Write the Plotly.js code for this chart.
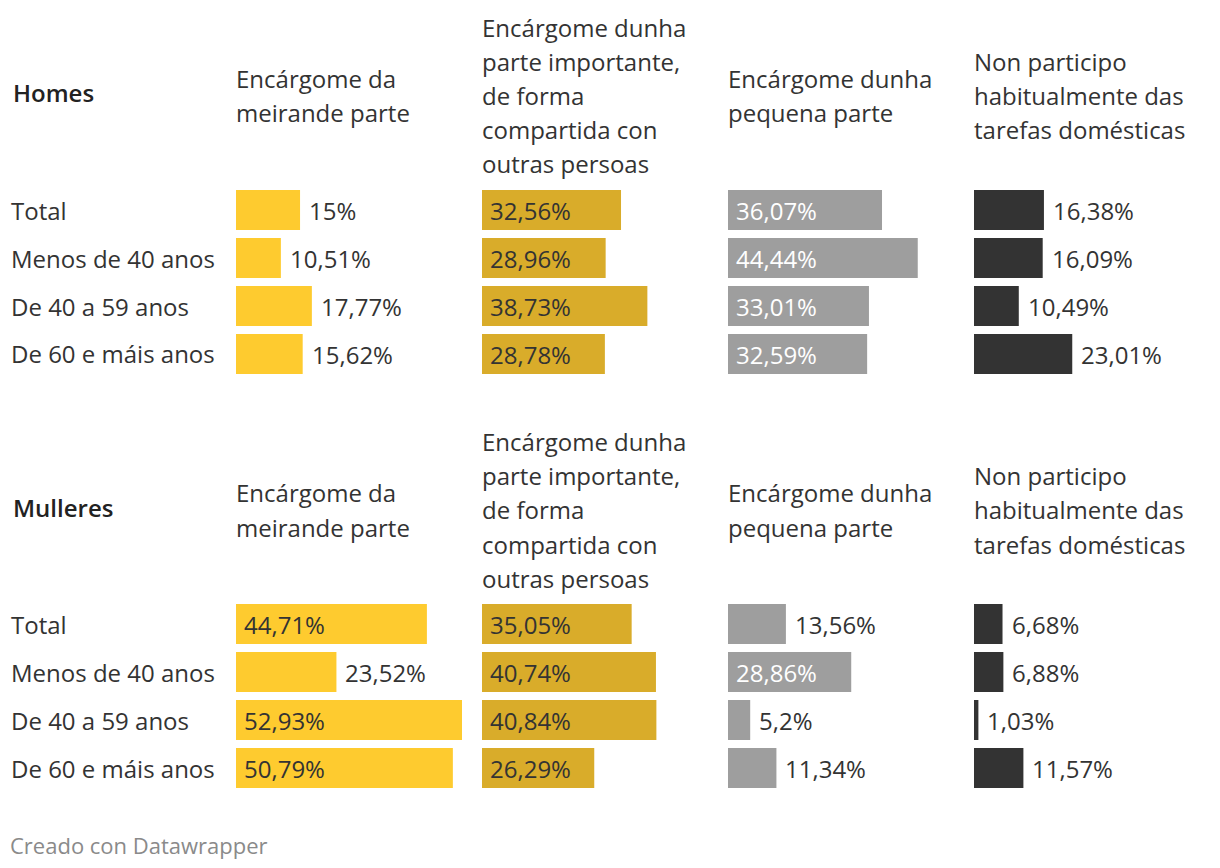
<!DOCTYPE html>
<html>
<head>
<meta charset="utf-8">
<script src="https://cdn.plot.ly/plotly-3.0.1.min.js"></script>
<style>html,body{margin:0;padding:0;background:#fff;}#chart{width:1220px;height:868px;}</style>
</head>
<body>
<div id="chart"></div>
<script>
// ---- data ----
const categories = ["Total", "Menos de 40 anos", "De 40 a 59 anos", "De 60 e máis anos"];
const groupNames = ["Homes", "Mulleres"];
const columnHeaders = [
  ["Encárgome da", "meirande parte"],
  ["Encárgome dunha", "parte importante,", "de forma", "compartida con", "outras persoas"],
  ["Encárgome dunha", "pequena parte"],
  ["Non participo", "habitualmente das", "tarefas domésticas"]
];
const homesMeirande   = [15, 10.51, 17.77, 15.62];
const homesImportante = [32.56, 28.96, 38.73, 28.78];
const homesPequena    = [36.07, 44.44, 33.01, 32.59];
const homesNon        = [16.38, 16.09, 10.49, 23.01];
const mulleresMeirande   = [44.71, 23.52, 52.93, 50.79];
const mulleresImportante = [35.05, 40.74, 40.84, 26.29];
const mulleresPequena    = [13.56, 28.86, 5.2, 11.34];
const mulleresNon        = [6.68, 6.88, 1.03, 11.57];
const footerText = "Creado con Datawrapper";

// ---- styling / layout ----
const W = 1220, H = 868;
const FONT = "Open Sans, Noto Sans, sans-serif";
const colColors = ["#fecb2f", "#d9ac2a", "#9e9e9e", "#333333"];
const insideTextColors = ["#333333", "#333333", "#ffffff", "#ffffff"];
const groupData = [
  [homesMeirande, homesImportante, homesPequena, homesNon],
  [mulleresMeirande, mulleresImportante, mulleresPequena, mulleresNon]
];
const colLeft = [236, 482, 728, 974];
const barAreaW = 226;
const xMax = 52.93;
const groupTop = [186, 600];
const rowPitch = 48, barH = 40;
const headerCenter = [96, 510];
const groupTitleY = [93, 507];
const lineStep = 34;
const fs = 24;
const insideThreshold = 25;

const fmt = v => String(v).replace('.', ',') + '%';
const py = p => 1 - p / H;
const px = p => p / W;

const traces = [];
const layout = {
  width: W, height: H,
  margin: {l: 0, r: 0, t: 0, b: 0},
  paper_bgcolor: "#ffffff", plot_bgcolor: "rgba(0,0,0,0)",
  showlegend: false,
  font: {family: FONT, color: "#333333", size: fs},
  annotations: []
};

groupData.forEach((cols, g) => {
  const top = groupTop[g], bottom = top + rowPitch * categories.length;
  layout.annotations.push({
    xref: "paper", yref: "paper", x: px(11), y: py(groupTitleY[g]),
    xanchor: "left", yanchor: "middle", showarrow: false,
    text: groupNames[g],
    font: {family: FONT, size: fs, color: "#222222", weight: 600}
  });
  columnHeaders.forEach((lines, c) => {
    const n = lines.length;
    lines.forEach((ln, i) => {
      layout.annotations.push({
        xref: "paper", yref: "paper", x: px(colLeft[c] - 2),
        y: py(headerCenter[g] + (i - (n - 1) / 2) * lineStep),
        xanchor: "left", yanchor: "middle", showarrow: false,
        text: ln, font: {family: FONT, size: fs, color: "#333333"}
      });
    });
  });
  cols.forEach((vals, c) => {
    const idx = g * 4 + c + 1;
    const sfx = idx === 1 ? "" : String(idx);
    const xa = "xaxis" + sfx, ya = "yaxis" + sfx, xr = "x" + sfx, yr = "y" + sfx;
    traces.push({
      type: "bar", orientation: "h", x: vals, y: categories,
      xaxis: xr, yaxis: yr,
      marker: {color: colColors[c], line: {width: 0}},
      width: barH / rowPitch, hoverinfo: "skip"
    });
    layout[xa] = {
      domain: [px(colLeft[c]), px(colLeft[c] + barAreaW)],
      range: [0, xMax], visible: false, fixedrange: true, anchor: yr
    };
    layout[ya] = {
      domain: [py(bottom), py(top)], type: "category",
      categoryorder: "array", categoryarray: categories,
      range: [categories.length - 0.5, -0.5],
      visible: false, fixedrange: true, anchor: xr
    };
    vals.forEach((v, r) => {
      const inside = v >= insideThreshold;
      layout.annotations.push({
        xref: xr, yref: yr, x: inside ? 0 : v, y: categories[r],
        xanchor: "left", yanchor: "middle", showarrow: false,
        xshift: inside ? 6 : 7,
        text: fmt(v),
        font: {family: FONT, size: fs, color: inside ? insideTextColors[c] : "#333333"}
      });
    });
  });
  categories.forEach((cat, r) => {
    layout.annotations.push({
      xref: "paper", yref: "paper", x: px(9),
      y: py(top + rowPitch * r + rowPitch / 2),
      xanchor: "left", yanchor: "middle", showarrow: false,
      text: cat, font: {family: FONT, size: fs, color: "#333333"}
    });
  });
});

layout.annotations.push({
  xref: "paper", yref: "paper", x: px(8), y: py(845),
  xanchor: "left", yanchor: "middle", showarrow: false,
  text: footerText, font: {family: FONT, size: 22, color: "#8a8a8a"}
});

Plotly.newPlot("chart", traces, layout, {displayModeBar: false, staticPlot: true});
</script>
</body>
</html>
